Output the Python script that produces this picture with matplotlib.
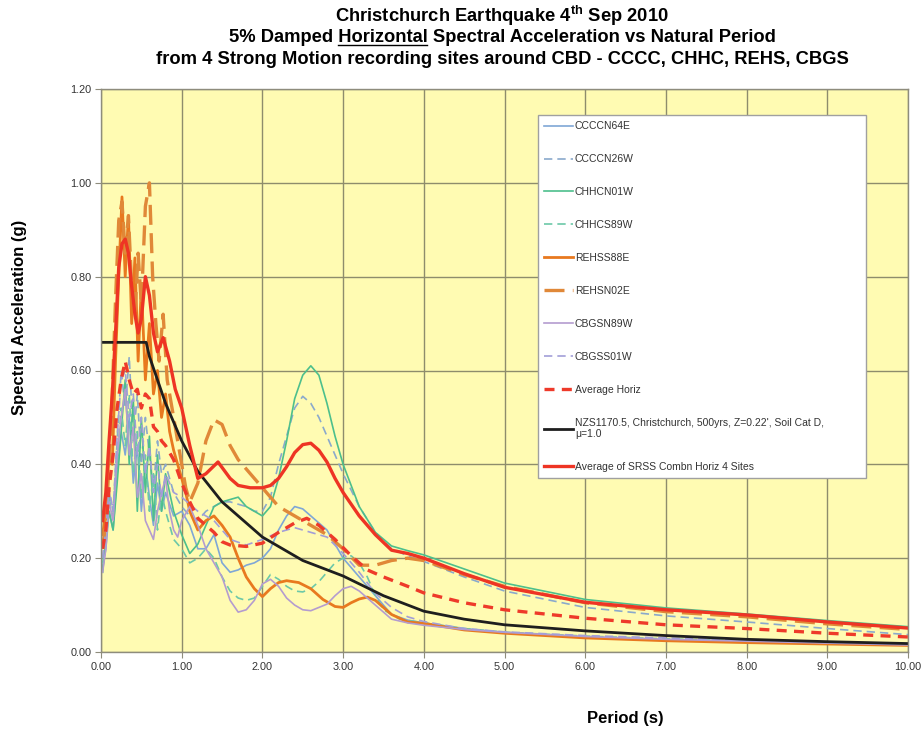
import matplotlib
matplotlib.use("Agg")
import matplotlib.pyplot as plt
from matplotlib.lines import Line2D

# ---------------- data ----------------
title_lines = ["Christchurch Earthquake 4$^{\\mathregular{th}}$ Sep 2010",
               "5% Damped Horizontal Spectral Acceleration vs Natural Period",
               "from 4 Strong Motion recording sites around CBD - CCCC, CHHC, REHS, CBGS"]
x_label = "Period (s)"
y_label = "Spectral Acceleration (g)"
x_ticks = [0, 1, 2, 3, 4, 5, 6, 7, 8, 9, 10]
y_ticks = [0.0, 0.2, 0.4, 0.6, 0.8, 1.0, 1.2]

ccccn64e_T = [0.02, 0.06, 0.1, 0.15, 0.2, 0.25, 0.3, 0.35, 0.4, 0.45, 0.5, 0.55, 0.6, 0.65, 0.7, 0.75, 0.8, 0.9,
              1.0, 1.1, 1.2, 1.3, 1.4, 1.5, 1.6, 1.7, 1.8, 1.9, 2.0, 2.1, 2.2, 2.3, 2.4, 2.5, 2.6, 2.7, 2.8, 2.9,
              3.0, 3.2, 3.4, 3.6, 3.8, 4.0, 4.5, 5.0, 6.0, 7.0, 8.0, 9.0, 10.0]
ccccn64e_S = [0.18, 0.22, 0.3, 0.26, 0.38, 0.47, 0.42, 0.5, 0.36, 0.44, 0.3, 0.4, 0.33, 0.27, 0.36, 0.3, 0.34, 0.29,
              0.3, 0.27, 0.22, 0.22, 0.25, 0.19, 0.17, 0.175, 0.185, 0.19, 0.2, 0.22, 0.26, 0.29, 0.31, 0.305, 0.29, 0.275, 0.26, 0.23,
              0.2, 0.16, 0.12, 0.08, 0.068, 0.062, 0.05, 0.042, 0.032, 0.026, 0.023, 0.02, 0.017]

ccccn26w_T = [0.02, 0.06, 0.1, 0.15, 0.2, 0.25, 0.3, 0.35, 0.4, 0.45, 0.5, 0.55, 0.6, 0.65, 0.7, 0.75, 0.8, 0.9,
              1.0, 1.1, 1.2, 1.3, 1.4, 1.5, 1.6, 1.7, 1.8, 1.9, 2.0, 2.1, 2.2, 2.3, 2.4, 2.5, 2.6, 2.7, 2.8, 2.9,
              3.0, 3.2, 3.4, 3.6, 3.8, 4.0, 4.5, 5.0, 6.0, 7.0, 8.0, 9.0, 10.0]
ccccn26w_S = [0.2, 0.25, 0.34, 0.3, 0.45, 0.6, 0.52, 0.63, 0.45, 0.55, 0.4, 0.5, 0.42, 0.35, 0.45, 0.38, 0.4, 0.34,
              0.31, 0.29, 0.28, 0.3, 0.31, 0.32, 0.32, 0.315, 0.31, 0.3, 0.3, 0.33, 0.4, 0.46, 0.52, 0.545, 0.53, 0.5, 0.46, 0.42,
              0.38, 0.31, 0.255, 0.22, 0.205, 0.193, 0.16, 0.13, 0.095, 0.077, 0.064, 0.05, 0.037]

chhcn01w_T = [0.02, 0.06, 0.1, 0.15, 0.2, 0.25, 0.3, 0.35, 0.4, 0.45, 0.5, 0.55, 0.6, 0.65, 0.7, 0.75, 0.8, 0.9,
              1.0, 1.1, 1.2, 1.3, 1.4, 1.5, 1.6, 1.7, 1.8, 1.9, 2.0, 2.1, 2.2, 2.3, 2.4, 2.5, 2.6, 2.7, 2.8, 2.9,
              3.0, 3.2, 3.4, 3.6, 3.8, 4.0, 4.5, 5.0, 6.0, 7.0, 8.0, 9.0, 10.0]
chhcn01w_S = [0.17, 0.24, 0.3, 0.26, 0.36, 0.47, 0.58, 0.4, 0.54, 0.3, 0.5, 0.34, 0.46, 0.28, 0.42, 0.3, 0.38, 0.3,
              0.25, 0.21, 0.23, 0.27, 0.31, 0.32, 0.325, 0.33, 0.31, 0.3, 0.29, 0.31, 0.37, 0.45, 0.54, 0.59, 0.61, 0.59, 0.53, 0.46,
              0.4, 0.31, 0.255, 0.226, 0.216, 0.207, 0.177, 0.147, 0.112, 0.094, 0.081, 0.067, 0.054]

chhcs89w_T = [0.02, 0.06, 0.1, 0.15, 0.2, 0.25, 0.3, 0.35, 0.4, 0.45, 0.5, 0.55, 0.6, 0.65, 0.7, 0.75, 0.8, 0.9,
              1.0, 1.1, 1.2, 1.3, 1.4, 1.5, 1.6, 1.7, 1.8, 1.9, 2.0, 2.1, 2.2, 2.3, 2.4, 2.5, 2.6, 2.7, 2.8, 2.9,
              3.0, 3.1, 3.2, 3.3, 3.4, 3.5, 3.7, 4.0, 4.5, 5.0, 6.0, 7.0, 8.0, 9.0, 10.0]
chhcs89w_S = [0.19, 0.23, 0.33, 0.28, 0.4, 0.52, 0.44, 0.55, 0.38, 0.47, 0.33, 0.42, 0.3, 0.38, 0.26, 0.34, 0.3, 0.24,
              0.22, 0.19, 0.2, 0.22, 0.2, 0.16, 0.13, 0.115, 0.11, 0.115, 0.14, 0.165, 0.155, 0.14, 0.13, 0.128, 0.135, 0.15, 0.17, 0.19,
              0.2, 0.205, 0.19, 0.16, 0.12, 0.09, 0.07, 0.062, 0.05, 0.042, 0.034, 0.028, 0.024, 0.02, 0.016]

rehss88e_T = [0.02, 0.06, 0.1, 0.14, 0.18, 0.22, 0.26, 0.3, 0.34, 0.38, 0.42, 0.46, 0.5, 0.55, 0.6, 0.65, 0.7, 0.75,
              0.8, 0.85, 0.9, 0.95, 1.0, 1.05, 1.1, 1.2, 1.3, 1.4, 1.5, 1.6, 1.7, 1.8, 1.9, 2.0, 2.1, 2.2, 2.3, 2.45,
              2.6, 2.75, 2.9, 3.0, 3.1, 3.2, 3.3, 3.4, 3.5, 3.6, 3.8, 4.0, 4.5, 5.0, 6.0, 7.0, 8.0, 9.0, 10.0]
rehss88e_S = [0.25, 0.3, 0.42, 0.4, 0.62, 0.8, 0.97, 0.8, 0.93, 0.7, 0.84, 0.62, 0.78, 0.58, 0.7, 0.55, 0.6, 0.5,
              0.55, 0.47, 0.43, 0.4, 0.37, 0.34, 0.3, 0.26, 0.28, 0.29, 0.27, 0.245, 0.2, 0.16, 0.135, 0.118, 0.135, 0.148, 0.152, 0.148,
              0.135, 0.112, 0.097, 0.095, 0.105, 0.113, 0.117, 0.11, 0.095, 0.08, 0.064, 0.061, 0.047, 0.04, 0.03, 0.024, 0.02, 0.017, 0.014]

rehsn02e_T = [0.02, 0.06, 0.1, 0.14, 0.18, 0.22, 0.26, 0.3, 0.34, 0.38, 0.42, 0.46, 0.5, 0.55, 0.6, 0.64, 0.68, 0.72,
              0.77, 0.82, 0.88, 0.95, 1.0, 1.05, 1.1, 1.2, 1.3, 1.4, 1.5, 1.6, 1.7, 1.8, 1.9, 2.0, 2.1, 2.2, 2.4, 2.6,
              2.8, 3.0, 3.2, 3.4, 3.6, 3.8, 4.0, 4.5, 5.0, 6.0, 7.0, 8.0, 9.0, 10.0]
rehsn02e_S = [0.22, 0.28, 0.4, 0.55, 0.75, 0.92, 0.96, 0.85, 0.93, 0.78, 0.72, 0.85, 0.74, 0.95, 1.0, 0.8, 0.7, 0.62,
              0.72, 0.58, 0.52, 0.45, 0.4, 0.35, 0.32, 0.36, 0.45, 0.495, 0.485, 0.44, 0.41, 0.39, 0.37, 0.35, 0.33, 0.31, 0.29, 0.27,
              0.25, 0.22, 0.185, 0.185, 0.195, 0.2, 0.195, 0.165, 0.14, 0.105, 0.086, 0.075, 0.06, 0.048]

cbgsn89w_T = [0.02, 0.06, 0.1, 0.15, 0.2, 0.25, 0.3, 0.35, 0.4, 0.45, 0.5, 0.55, 0.6, 0.65, 0.7, 0.75, 0.8, 0.85,
              0.9, 0.95, 1.0, 1.1, 1.2, 1.3, 1.4, 1.5, 1.6, 1.7, 1.8, 1.9, 2.0, 2.1, 2.2, 2.3, 2.4, 2.5, 2.6, 2.7,
              2.8, 2.9, 3.0, 3.1, 3.2, 3.4, 3.6, 3.8, 4.0, 4.5, 5.0, 6.0, 7.0, 8.0, 9.0, 10.0]
cbgsn89w_S = [0.17, 0.22, 0.32, 0.28, 0.42, 0.5, 0.56, 0.42, 0.48, 0.33, 0.38, 0.28, 0.26, 0.24, 0.3, 0.34, 0.37, 0.3,
              0.26, 0.245, 0.28, 0.31, 0.27, 0.22, 0.19, 0.16, 0.11, 0.085, 0.09, 0.11, 0.145, 0.155, 0.14, 0.115, 0.1, 0.09, 0.088, 0.095,
              0.102, 0.12, 0.135, 0.14, 0.13, 0.1, 0.07, 0.062, 0.057, 0.048, 0.042, 0.033, 0.027, 0.023, 0.019, 0.015]

cbgss01w_T = [0.02, 0.06, 0.1, 0.15, 0.2, 0.25, 0.3, 0.35, 0.4, 0.45, 0.5, 0.55, 0.6, 0.65, 0.7, 0.75, 0.8, 0.9,
              1.0, 1.2, 1.4, 1.5, 1.6, 1.8, 2.0, 2.2, 2.4, 2.6, 2.8, 3.0, 3.2, 3.4, 3.6, 3.8, 4.0, 4.5, 5.0, 6.0,
              7.0, 8.0, 9.0, 10.0]
cbgss01w_S = [0.2, 0.26, 0.35, 0.3, 0.46, 0.58, 0.6, 0.5, 0.55, 0.42, 0.5, 0.38, 0.44, 0.34, 0.4, 0.33, 0.38, 0.34,
              0.33, 0.3, 0.28, 0.26, 0.24, 0.228, 0.24, 0.255, 0.265, 0.255, 0.245, 0.21, 0.17, 0.125, 0.095, 0.075, 0.065, 0.05, 0.043, 0.035,
              0.03, 0.025, 0.02, 0.017]

avg_T = [0.02, 0.06, 0.1, 0.15, 0.2, 0.25, 0.3, 0.35, 0.4, 0.45, 0.5, 0.55, 0.6, 0.65, 0.7, 0.75, 0.8, 0.9,
         1.0, 1.1, 1.2, 1.3, 1.4, 1.5, 1.6, 1.8, 2.0, 2.2, 2.4, 2.55, 2.7, 2.9, 3.1, 3.3, 3.5, 3.8, 4.0, 4.5,
         5.0, 6.0, 7.0, 8.0, 9.0, 10.0]
avg_S = [0.22, 0.26, 0.35, 0.42, 0.52, 0.58, 0.62, 0.58, 0.55, 0.56, 0.52, 0.55, 0.54, 0.48, 0.47, 0.45, 0.44, 0.41,
         0.36, 0.32, 0.285, 0.27, 0.255, 0.235, 0.228, 0.225, 0.232, 0.255, 0.275, 0.285, 0.27, 0.24, 0.205, 0.175, 0.16, 0.14, 0.126, 0.105,
         0.09, 0.072, 0.058, 0.05, 0.04, 0.032]

nzs_T = [0.0, 0.5, 0.56, 0.6, 0.7, 0.8, 0.9, 1.0, 1.2, 1.5, 2.0, 2.5, 3.0, 3.5, 4.0, 4.5, 5.0, 6.0, 7.0, 8.0, 9.0, 10.0]
nzs_S = [0.66, 0.66, 0.66, 0.63, 0.58, 0.53, 0.49, 0.45, 0.385, 0.32, 0.245, 0.195, 0.162, 0.12, 0.087, 0.07, 0.058,
         0.045, 0.035, 0.027, 0.022, 0.018]

srss_T = [0.02, 0.06, 0.1, 0.14, 0.18, 0.22, 0.26, 0.3, 0.34, 0.38, 0.42, 0.46, 0.5, 0.55, 0.6, 0.65, 0.7, 0.77,
          0.85, 0.92, 1.0, 1.1, 1.2, 1.3, 1.45, 1.6, 1.7, 1.85, 2.0, 2.1, 2.2, 2.3, 2.4, 2.5, 2.6, 2.7, 2.8, 2.9,
          3.0, 3.1, 3.2, 3.4, 3.6, 3.8, 4.0, 4.5, 5.0, 6.0, 7.0, 8.0, 9.0, 10.0]
srss_S = [0.28, 0.34, 0.45, 0.55, 0.68, 0.82, 0.87, 0.88, 0.85, 0.78, 0.72, 0.68, 0.71, 0.8, 0.76, 0.68, 0.64, 0.67,
          0.62, 0.56, 0.52, 0.44, 0.37, 0.38, 0.405, 0.37, 0.355, 0.35, 0.35, 0.355, 0.37, 0.395, 0.425, 0.442, 0.445, 0.43, 0.405, 0.37,
          0.34, 0.315, 0.29, 0.25, 0.217, 0.21, 0.2, 0.167, 0.138, 0.106, 0.09, 0.079, 0.064, 0.051]

series_names = ["CCCCN64E", "CCCCN26W", "CHHCN01W", "CHHCS89W", "REHSS88E", "REHSN02E",
                "CBGSN89W", "CBGSS01W", "Average Horiz",
                "NZS1170.5, Christchurch, 500yrs, Z=0.22', Soil Cat D,\n\u03bc=1.0",
                "Average of SRSS Combn Horiz 4 Sites"]

# ---------------- styling ----------------
series = [
    (ccccn64e_T, ccccn64e_S, dict(color="#7FA7D6", lw=1.2, ls="-")),
    (ccccn26w_T, ccccn26w_S, dict(color="#8AA9CC", lw=1.2, ls=(0, (5, 3)))),
    (chhcn01w_T, chhcn01w_S, dict(color="#4DBF8C", lw=1.2, ls="-")),
    (chhcs89w_T, chhcs89w_S, dict(color="#6CC8A8", lw=1.2, ls=(0, (5, 3)))),
    (rehss88e_T, rehss88e_S, dict(color="#E8791F", lw=2.0, ls="-")),
    (rehsn02e_T, rehsn02e_S, dict(color="#E08838", lw=2.4, ls=(0, (6, 2.5)))),
    (cbgsn89w_T, cbgsn89w_S, dict(color="#B49CCF", lw=1.2, ls="-")),
    (cbgss01w_T, cbgss01w_S, dict(color="#A29ED8", lw=1.2, ls=(0, (5, 3)))),
    (avg_T, avg_S, dict(color="#EE3A2A", lw=2.4, ls=(0, (3, 2.2)))),
    (nzs_T, nzs_S, dict(color="#1E1E1E", lw=2.0, ls="-")),
    (srss_T, srss_S, dict(color="#EE3424", lw=2.4, ls="-")),
]

W, H = 923, 733
fig = plt.figure(figsize=(W / 100, H / 100), dpi=100, facecolor="white")
ax = fig.add_axes([101 / W, 1 - 652 / H, 807 / W, 563 / H])
ax.set_facecolor("#FFFBB2")

handles = []
for (T, S, st), name in zip(series, series_names):
    ln, = ax.plot(T, S, label=name, solid_joinstyle="round", **st)
    handles.append(ln)

ax.set_xlim(0, 10)
ax.set_ylim(0, 1.2)
ax.set_xticks(x_ticks)
ax.set_yticks(y_ticks)
ax.set_xticklabels([f"{v:.2f}" for v in x_ticks])
ax.set_yticklabels([f"{v:.2f}" for v in y_ticks])
ax.grid(True, color="#8E8C6C", lw=1.0)
ax.set_axisbelow(True)
for sp in ax.spines.values():
    sp.set_color("#8E8C7C")
    sp.set_linewidth(1.0)
ax.tick_params(axis="both", labelsize=7.8, length=4, color="#8E8C7C", labelcolor="#333333", pad=3)
for lab in ax.get_xticklabels() + ax.get_yticklabels():
    lab.set_family(["Liberation Sans", "DejaVu Sans"])

leg = ax.legend(handles=handles, loc="upper left", bbox_to_anchor=(0.535, 0.30, 0.42, 0.663),
                mode="expand", labelspacing=2.2, handlelength=2.8, handletextpad=0.15,
                borderpad=0.6, fancybox=False, framealpha=1.0, edgecolor="#A0A0A0",
                prop={"family": ["Liberation Sans", "DejaVu Sans"], "size": 7.5})
leg.get_frame().set_linewidth(1.0)
for t in leg.get_texts():
    t.set_color("#333333")

tfam = ["Liberation Sans", "DejaVu Sans"]
tsize = 13.2
cx = 502 / W
fig.text(cx, 1 - 16 / H, title_lines[0], ha="center", va="center", fontsize=tsize, fontweight="bold", family=tfam)
t2 = fig.text(cx, 1 - 38 / H, title_lines[1], ha="center", va="center", fontsize=tsize, fontweight="bold", family=tfam)
fig.text(cx, 1 - 60 / H, title_lines[2], ha="center", va="center", fontsize=tsize, fontweight="bold", family=tfam)

# underline the word "Horizontal"
renderer = fig.canvas.get_renderer()
bb = t2.get_window_extent(renderer)
def _w(s):
    tt = fig.text(0, 0, s, fontsize=tsize, fontweight="bold", family=tfam)
    w = tt.get_window_extent(renderer).width
    tt.remove()
    return w
x0 = bb.x0 + _w("5% Damped ")
x1 = bb.x0 + _w("5% Damped Horizontal")
uy = bb.y0 + 1.5
fig.add_artist(Line2D([x0 / W, x1 / W], [uy / H, uy / H], transform=fig.transFigure, color="black", lw=1.0))

fig.text(20 / W, 1 - 317 / H, y_label, rotation=90, ha="center", va="center", fontsize=12, fontweight="bold",
         family=["Liberation Sans", "DejaVu Sans"])
fig.text(625 / W, 1 - 718 / H, x_label, ha="center", va="center", fontsize=12, fontweight="bold",
         family=["Liberation Sans", "DejaVu Sans"])

fig.savefig("out.png", dpi=100, facecolor="white")
